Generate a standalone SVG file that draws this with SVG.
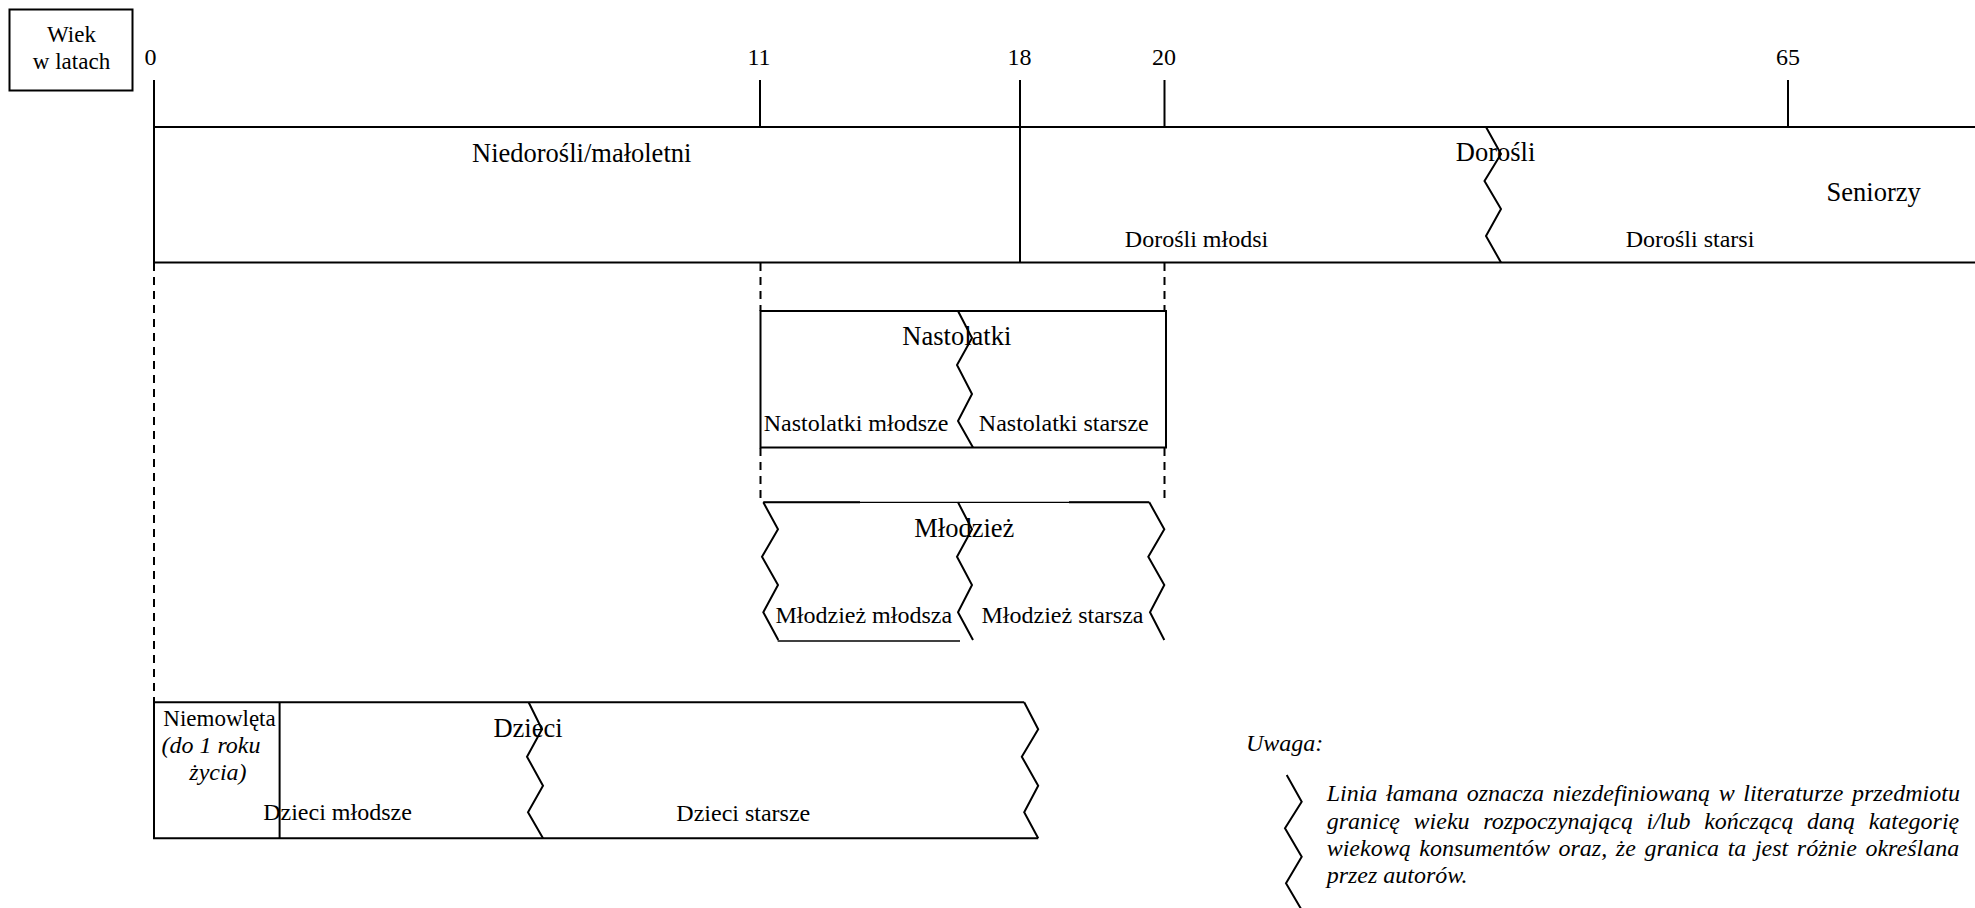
<svg xmlns="http://www.w3.org/2000/svg" width="1975" height="908" viewBox="0 0 1975 908">
  <style>
    .ln { stroke: #000; stroke-width: 2; fill: none; }
    .thin { stroke: #000; stroke-width: 1.3; fill: none; }
    .zz { stroke: #000; stroke-width: 2; fill: none; stroke-linejoin: miter; }
    .dash { stroke: #000; stroke-width: 2; fill: none; stroke-dasharray: 8 6; }
    text { font-family: "Liberation Serif", "Times New Roman", serif; fill: #000; }
    .num { font-size: 24px; text-anchor: middle; }
    .head { font-size: 23px; text-anchor: middle; }
    .cat { font-size: 26.5px; text-anchor: middle; }
    .sub { font-size: 24px; text-anchor: middle; }
    .it { font-style: italic; font-size: 24px; }
  </style>
  <rect width="1975" height="908" fill="#fff"/>

  <!-- heading box -->
  <g id="heading">
    <rect x="9.5" y="9.5" width="123" height="81" class="ln"/>
    <text class="head" x="71.5" y="41.5">Wiek</text>
    <text class="head" x="71.5" y="69">w latach</text>
  </g>

  <!-- age axis: ticks and numbers -->
  <g id="axis">
    <text class="num" x="150.5" y="64.5">0</text>
    <text class="num" x="759" y="64.5">11</text>
    <text class="num" x="1019.5" y="64.5">18</text>
    <text class="num" x="1164" y="64.5">20</text>
    <text class="num" x="1788" y="64.5">65</text>
    <line x1="154" y1="80" x2="154" y2="262" class="ln"/>
    <line x1="760" y1="80" x2="760" y2="127" class="ln"/>
    <line x1="1020" y1="80" x2="1020" y2="262" class="ln"/>
    <line x1="1164.5" y1="80" x2="1164.5" y2="127" class="ln"/>
    <line x1="1788" y1="80" x2="1788" y2="127" class="ln"/>
  </g>

  <!-- main band -->
  <g id="band">
    <line x1="153" y1="127" x2="1975" y2="127" class="ln"/>
    <line x1="153" y1="262.5" x2="1975" y2="262.5" class="ln"/>
    <polyline class="zz" points="1486,127 1501,154 1484.5,181 1501,209 1486,236 1501,262.5"/>
    <text class="cat" x="581.7" y="161.5">Niedorośli/małoletni</text>
    <text class="cat" x="1495.5" y="161">Dorośli</text>
    <text class="cat" x="1873.7" y="200.7">Seniorzy</text>
    <text class="sub" x="1196.5" y="246.7">Dorośli młodsi</text>
    <text class="sub" x="1690" y="246.7">Dorośli starsi</text>
  </g>

  <!-- guide lines between levels -->
  <g id="connectors">
    <line x1="760.5" y1="263" x2="760.5" y2="311" class="dash"/>
    <line x1="1164.5" y1="263" x2="1164.5" y2="311" class="dash"/>
    <line x1="760.5" y1="448" x2="760.5" y2="501" class="dash"/>
    <line x1="1164.5" y1="448" x2="1164.5" y2="501" class="dash"/>
    <line x1="154" y1="263" x2="154" y2="702" class="dash"/>
  </g>

  <!-- teenagers -->
  <g id="nastolatki">
    <rect x="760.5" y="311" width="405.5" height="136.5" class="ln"/>
    <polyline class="zz" points="958,311 972,338 957,365 972,394 958,421 973,447.5"/>
    <text class="cat" x="956.8" y="345">Nastolatki</text>
    <text class="sub" x="856" y="430.7">Nastolatki młodsze</text>
    <text class="sub" x="1063.8" y="430.7">Nastolatki starsze</text>
  </g>

  <!-- youth -->
  <g id="mlodziez">
    <line x1="763.3" y1="502.3" x2="1149.3" y2="502.3" class="thin"/>
    <line x1="763.3" y1="502.3" x2="860" y2="502.3" class="ln"/>
    <line x1="1069" y1="502.3" x2="1149.3" y2="502.3" class="ln"/>
    <polyline class="zz" points="763.3,502.3 778,529.3 762,556.7 778,585 763.3,612.3 778.3,640"/>
    <polyline class="zz" points="958,502.3 972,529.3 957,556.7 972,585 958,612.3 973,640"/>
    <polyline class="zz" points="1149.3,502.3 1164.3,529.3 1148.3,556.7 1164.3,585 1150,612.3 1164.3,640"/>
    <line x1="777.7" y1="641" x2="960" y2="641" class="thin" stroke="#444"/>
    <text class="cat" x="964.3" y="536.7">Młodzież</text>
    <text class="sub" x="863.8" y="623.3">Młodzież młodsza</text>
    <text class="sub" x="1062.5" y="623.3">Młodzież starsza</text>
  </g>

  <!-- infants and children -->
  <g id="dzieci">
    <line x1="153" y1="702.3" x2="1024.2" y2="702.3" class="ln"/>
    <line x1="153" y1="838.3" x2="1038.2" y2="838.3" class="ln"/>
    <line x1="154" y1="702.3" x2="154" y2="838.3" class="ln"/>
    <line x1="279.6" y1="702.3" x2="279.6" y2="838.3" class="ln"/>
    <polyline class="zz" points="528.6,702.3 542,729.3 527,756.7 543,785.7 528,812.3 543,838.3"/>
    <polyline class="zz" points="1024.2,702.3 1038.2,729.3 1021.8,756.7 1038.2,785.7 1024.2,812.3 1038.2,838.3"/>
    <text class="head" x="219.5" y="726">Niemowlęta</text>
    <text class="it" x="161.4" y="753.3">(do 1 roku</text>
    <text class="it" x="189.3" y="780">życia)</text>
    <text class="cat" x="528" y="736.7">Dzieci</text>
    <text class="sub" x="337.5" y="820">Dzieci młodsze</text>
    <text class="sub" x="743.3" y="821">Dzieci starsze</text>
  </g>

  <!-- note -->
  <g id="legend">
    <text class="it" x="1246" y="750.7" font-size="23">Uwaga:</text>
    <polyline class="zz" points="1286.7,775 1301.7,801.7 1285,828.3 1301.7,856.7 1286,883.3 1301.7,910"/>
    <text class="it" x="1326.7" y="801" word-spacing="2.65">Linia łamana oznacza niezdefiniowaną w literaturze przedmiotu</text>
    <text class="it" x="1326.7" y="829" word-spacing="7.6">granicę wieku rozpoczynającą i/lub kończącą daną kategorię</text>
    <text class="it" x="1326.7" y="856" word-spacing="2.6">wiekową konsumentów oraz, że granica ta jest różnie określana</text>
    <text class="it" x="1326.7" y="882.7">przez autorów.</text>
  </g>
</svg>
